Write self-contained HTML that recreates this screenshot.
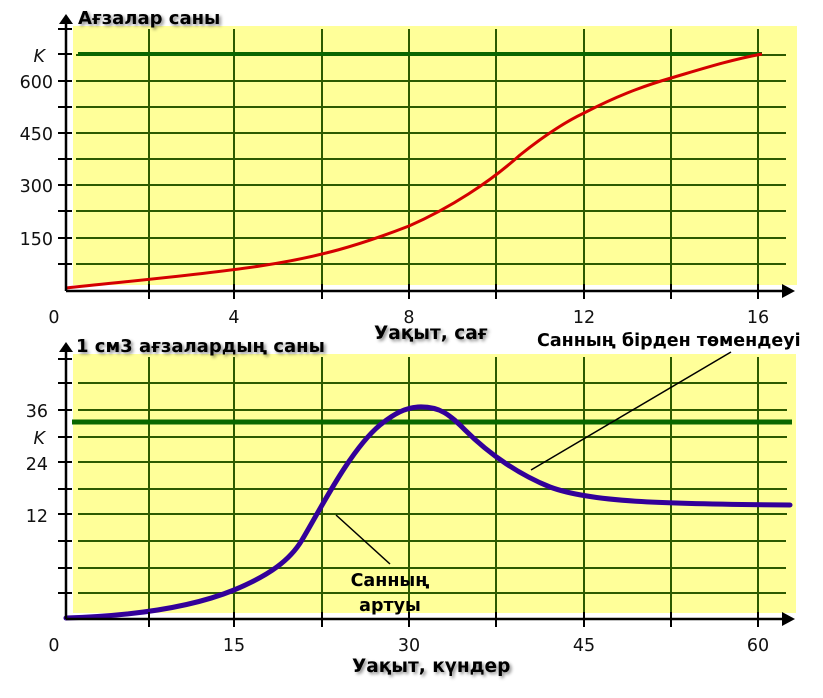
<!DOCTYPE html>
<html><head><meta charset="utf-8"><style>
body{margin:0;background:#fff}
svg text{font-family:"Verdana","DejaVu Sans",sans-serif}
</style></head><body>
<svg width="823" height="693" viewBox="0 0 823 693" xmlns="http://www.w3.org/2000/svg">
<defs><filter id="sh" x="-5%" y="-20%" width="110%" height="160%"><feDropShadow dx="2" dy="2" stdDeviation="1.5" flood-color="#000" flood-opacity="0.45"/></filter></defs>
<!-- TOP CHART -->
<rect x="73" y="26" width="724" height="259" fill="#ffff99"/>
<g stroke="#2d5a00" stroke-width="2">
<line x1="149" y1="29" x2="149" y2="285"/><line x1="234" y1="29" x2="234" y2="285"/><line x1="322" y1="29" x2="322" y2="285"/><line x1="409" y1="29" x2="409" y2="285"/><line x1="496" y1="29" x2="496" y2="285"/><line x1="584" y1="29" x2="584" y2="285"/><line x1="671" y1="29" x2="671" y2="285"/><line x1="758" y1="29" x2="758" y2="285"/>
<line x1="76" y1="81" x2="786" y2="81"/><line x1="76" y1="107" x2="786" y2="107"/><line x1="76" y1="133" x2="786" y2="133"/><line x1="76" y1="159" x2="786" y2="159"/><line x1="76" y1="185" x2="786" y2="185"/><line x1="76" y1="211" x2="786" y2="211"/><line x1="76" y1="238" x2="786" y2="238"/><line x1="76" y1="264" x2="786" y2="264"/><line x1="76" y1="55" x2="786" y2="55"/>
</g>
<line x1="78" y1="54" x2="762" y2="54" stroke="#0a6600" stroke-width="4"/>
<path d="M66,288 C120,282 200,275 260,266 C320,257 360,245 409,226 C450,208 490,182 520,155 C545,135 565,122 584,113 C615,97 640,87 671,78 C705,68 730,60 762,54" fill="none" stroke="#d40000" stroke-width="3"/>
<g stroke="#000" stroke-width="2.5">
<line x1="66" y1="22" x2="66" y2="291"/><line x1="66" y1="291" x2="785" y2="291"/>
</g>
<g stroke="#000" stroke-width="2">
<line x1="58" y1="29" x2="72" y2="29"/><line x1="58" y1="54" x2="72" y2="54"/><line x1="58" y1="81" x2="72" y2="81"/><line x1="58" y1="107" x2="72" y2="107"/><line x1="58" y1="133" x2="72" y2="133"/><line x1="58" y1="159" x2="72" y2="159"/><line x1="58" y1="185" x2="72" y2="185"/><line x1="58" y1="211" x2="72" y2="211"/><line x1="58" y1="238" x2="72" y2="238"/><line x1="58" y1="264" x2="72" y2="264"/>
<line x1="149" y1="284" x2="149" y2="299"/><line x1="234" y1="284" x2="234" y2="299"/><line x1="322" y1="284" x2="322" y2="299"/><line x1="409" y1="284" x2="409" y2="299"/><line x1="496" y1="284" x2="496" y2="299"/><line x1="584" y1="284" x2="584" y2="299"/><line x1="671" y1="284" x2="671" y2="299"/><line x1="758" y1="284" x2="758" y2="299"/>
</g>
<polygon points="66,14 59,24 73,24" fill="#000"/>
<polygon points="795,291 782,284 782,298" fill="#000"/>
<g font-size="17.5" fill="#111" text-anchor="end">
<text x="53" y="88">600</text><text x="53" y="140">450</text><text x="53" y="192">300</text><text x="53" y="245">150</text>
<text x="45" y="62" font-style="italic">K</text>
</g>
<g font-size="17.5" fill="#111" text-anchor="middle">
<text x="54" y="323">0</text><text x="234" y="323">4</text><text x="409" y="323">8</text><text x="584" y="323">12</text><text x="758" y="323">16</text>
</g>
<text x="78" y="24" font-size="18" font-weight="bold" filter="url(#sh)">Ағзалар саны</text>
<text x="374" y="339" font-size="18.5" font-weight="bold" filter="url(#sh)">Уақыт, сағ</text>
<!-- BOTTOM CHART -->
<rect x="73" y="354" width="723" height="259" fill="#ffff99"/>
<g stroke="#2d5a00" stroke-width="2">
<line x1="149" y1="357" x2="149" y2="613"/><line x1="234" y1="357" x2="234" y2="613"/><line x1="322" y1="357" x2="322" y2="613"/><line x1="409" y1="357" x2="409" y2="613"/><line x1="496" y1="357" x2="496" y2="613"/><line x1="584" y1="357" x2="584" y2="613"/><line x1="671" y1="357" x2="671" y2="613"/><line x1="758" y1="357" x2="758" y2="613"/>
<line x1="78" y1="383" x2="787" y2="383"/><line x1="78" y1="410" x2="787" y2="410"/><line x1="78" y1="437" x2="787" y2="437"/><line x1="78" y1="462" x2="787" y2="462"/><line x1="78" y1="489" x2="787" y2="489"/><line x1="78" y1="514" x2="787" y2="514"/><line x1="78" y1="541" x2="786" y2="541"/><line x1="78" y1="568" x2="786" y2="568"/><line x1="78" y1="593" x2="786" y2="593"/>
</g>
<line x1="72" y1="422" x2="792" y2="422" stroke="#0a6600" stroke-width="5"/>
<path d="M66,618 C130,616 190,608 234,590 C270,575 290,560 302,540 C320,510 350,450 380,425 C395,413 405,408 418,407 C440,406 450,415 465,430 C490,455 520,475 550,487 C590,502 660,504 790,505" fill="none" stroke="#330099" stroke-width="5" stroke-linecap="round"/>
<line x1="336" y1="515" x2="390" y2="564" stroke="#000" stroke-width="1.5"/>
<line x1="531" y1="470" x2="731" y2="352" stroke="#000" stroke-width="1.5"/>
<g stroke="#000" stroke-width="2.5">
<line x1="66" y1="350" x2="66" y2="619"/><line x1="66" y1="619" x2="785" y2="619"/>
</g>
<g stroke="#000" stroke-width="2">
<line x1="58" y1="359" x2="72" y2="359"/><line x1="58" y1="383" x2="72" y2="383"/><line x1="58" y1="410" x2="72" y2="410"/><line x1="58" y1="437" x2="72" y2="437"/><line x1="58" y1="462" x2="72" y2="462"/><line x1="58" y1="489" x2="72" y2="489"/><line x1="58" y1="514" x2="72" y2="514"/><line x1="58" y1="541" x2="72" y2="541"/><line x1="58" y1="568" x2="72" y2="568"/><line x1="58" y1="593" x2="72" y2="593"/>
<line x1="149" y1="612" x2="149" y2="627"/><line x1="234" y1="612" x2="234" y2="627"/><line x1="322" y1="612" x2="322" y2="627"/><line x1="409" y1="612" x2="409" y2="627"/><line x1="496" y1="612" x2="496" y2="627"/><line x1="584" y1="612" x2="584" y2="627"/><line x1="671" y1="612" x2="671" y2="627"/><line x1="758" y1="612" x2="758" y2="627"/>
</g>
<polygon points="66,342 59,352 73,352" fill="#000"/>
<polygon points="795,619 782,612 782,626" fill="#000"/>
<g font-size="17.5" fill="#111" text-anchor="end">
<text x="48" y="417">36</text><text x="48" y="470">24</text><text x="48" y="522">12</text>
<text x="45" y="444" font-style="italic">K</text>
</g>
<g font-size="17.5" fill="#111" text-anchor="middle">
<text x="54" y="651">0</text><text x="234" y="651">15</text><text x="409" y="651">30</text><text x="584" y="651">45</text><text x="758" y="651">60</text>
</g>
<text x="76" y="352" font-size="18" font-weight="bold" filter="url(#sh)">1 см3 ағзалардың саны</text>
<text x="352" y="672" font-size="18.5" font-weight="bold" filter="url(#sh)">Уақыт, күндер</text>
<text x="537" y="346" font-size="17.5" font-weight="bold">Санның бірден төмендеуі</text>
<text x="390" y="586" font-size="17.5" font-weight="bold" text-anchor="middle">Санның</text>
<text x="390" y="611" font-size="17.5" font-weight="bold" text-anchor="middle">артуы</text>
</svg>
</body></html>
